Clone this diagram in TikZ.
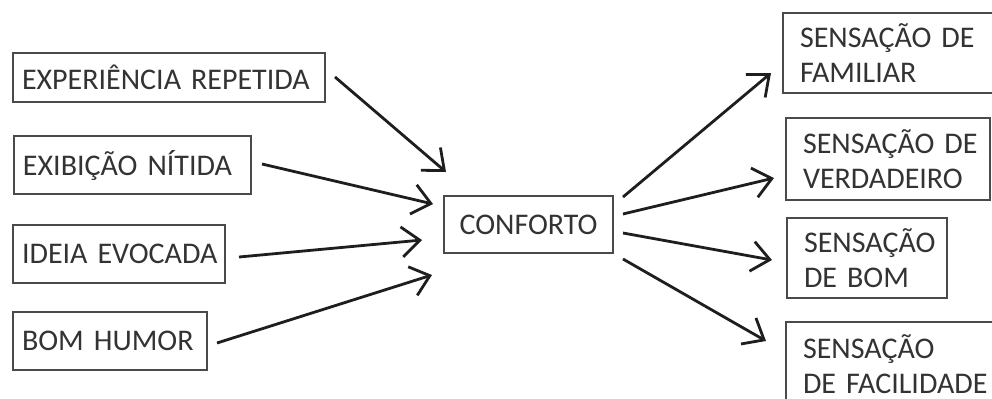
\documentclass[tikz,border=0pt]{standalone}
\usepackage{fontspec}
\setmainfont{Carlito}
\usepackage{xcolor}
\usepackage{tikz}
\usetikzlibrary{positioning, arrows.meta, calc}

\definecolor{boxgray}{HTML}{4A4A4A}
\definecolor{textgray}{HTML}{333333}
\definecolor{arrowdark}{HTML}{1E1E1E}

\begin{document}
\begin{tikzpicture}[x=0.5pt, y=-0.5pt,
        font=\fontsize{15}{17.5}\selectfont,
        box/.style={draw=boxgray, line width=1pt, text=textgray, align=left, inner ysep=0pt,
            execute at begin node={\hyphenpenalty=10000\exhyphenpenalty=10000}},
        lbox/.style={box, inner xsep=4.5pt, minimum height=29pt, text width=#1},
        rbox/.style={box, inner xsep=8.5pt, minimum height=40pt, text width=#1},
        arr/.style={draw=arrowdark, line width=1.4pt, -{Straight Barb[length=9pt, width=15pt, line width=1.4pt]}}]

        % Frame
        \useasboundingbox (0,0) rectangle (992,398);
        \clip (0,0) rectangle (992,398);

        % Causes
        \node[lbox=147pt, minimum height=24.5pt] (exp) at (169,77.5) {EXPERIÊNCIA~REPETIDA};
        \node[lbox=109.5pt] (exi) at (132.5,165) {EXIBIÇÃO~NÍTIDA};
        \node[lbox=97pt] (ide) at (119,253.5) {IDEIA~EVOCADA};
        \node[lbox=88pt] (bom) at (110,341) {BOM~HUMOR};

        % Centre
        \node[box, minimum width=84.5pt, minimum height=28.5pt, align=center] (conf) at (528.5,224.5) {CONFORTO};

        % Effects
        \node[rbox=91pt] (fam) at (891,53) {SENSAÇÃO~DE\\FAMILIAR};
        \node[rbox=85pt, minimum height=41pt] (ver) at (888,159) {SENSAÇÃO~DE\\VERDADEIRO};
        \node[rbox=63pt] (sbom) at (867,258) {SENSAÇÃO\\DE~BOM};
        \node[rbox=90pt, minimum height=42pt] (fac) at (893,364) {SENSAÇÃO\\DE~FACILIDADE};

        % Arrows in
        \draw[arr] ([shift={(9,-0.5)}]exp.east) -- ([shift={(3,-52.5)}]conf.west);
        \draw[arr] ([shift={(10,-1)}]exi.east) -- ([shift={(-10,-20.5)}]conf.west);
        \draw[arr] ([shift={(13,3.5)}]ide.east) -- ([shift={(-21,15.5)}]conf.west);
        \draw[arr] ([shift={(9,2)}]bom.east) -- ([shift={(-11,50.5)}]conf.west);

        % Arrows out
        \draw[arr] ([shift={(9,-27.5)}]conf.east) -- ([shift={(-11,20)}]fam.west);
        \draw[arr] ([shift={(9,-10.5)}]conf.east) -- ([shift={(-11,19)}]ver.west);
        \draw[arr] ([shift={(9,8.5)}]conf.east) -- ([shift={(-14,2)}]sbom.west);
        \draw[arr] ([shift={(9,34.5)}]conf.east) -- ([shift={(-19,20)}]fac.north west);

    \end{tikzpicture}
\end{document}
